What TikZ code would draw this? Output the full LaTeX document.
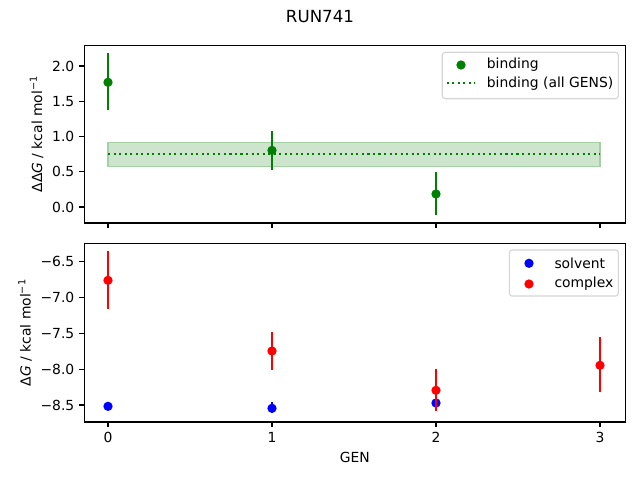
\documentclass[tikz,border=0pt]{standalone}
\usepackage{fontspec}
\setmainfont{DejaVu Sans}
\definecolor{mplgreen}{RGB}{0,128,0}
\definecolor{mplblue}{RGB}{0,0,255}
\definecolor{mplred}{RGB}{255,0,0}
\begin{document}
\begin{tikzpicture}[x=1pt,y=-1pt,
  spine/.style={line width=1.11pt,black},
  tickmark/.style={line width=1.11pt,black},
  lab/.style={font=\fontsize{13.89}{16}\selectfont,inner sep=0pt},
  ebar/.style={line width=2.08pt},
  mk/.style={circle,inner sep=0pt,minimum size=9.3pt,draw=none},
  legbox/.style={draw=black!20,fill=white,fill opacity=0.8,draw opacity=0.8,rounded corners=2.8pt,line width=1.11pt},
  dotline/.style={mplgreen,line width=2.08pt,dash pattern=on 2.08pt off 3.44pt}
]
\useasboundingbox (0,0) rectangle (640,480);
% title
\node[lab,font=\fontsize{16.67}{19}\selectfont] (title) at (320,16.7) {RUN741};

% ================= top axes =================
\fill[mplgreen!20] (108,142.3) rectangle (600,166.7);
\draw[mplgreen!36,line width=1.2pt] (108,142.3) rectangle (600,166.7);
\draw[dotline] (108,154) -- (600,154);
% binding points
\draw[ebar,mplgreen] (108,53.3) -- (108,110.3);
\node[mk,fill=mplgreen] (b0) at (108,82.3) {};
\draw[ebar,mplgreen] (272,131) -- (272,169.7);
\node[mk,fill=mplgreen] (b1) at (272,150.4) {};
\draw[ebar,mplgreen] (436,172.3) -- (436,214.5);
\node[mk,fill=mplgreen] (b2) at (436,194) {};
% spines
\draw[spine] (84.3,45.3) rectangle (625.3,223);
% y ticks
\foreach \y/\t in {66/2.0,101.3/1.5,136.5/1.0,171.8/0.5,207/0.0}{
  \draw[tickmark] (84.3,\y) -- (79.4,\y);
  \node[lab,anchor=east] at (74.5,\y) {\t};
}
% x ticks (no labels)
\foreach \x in {108,272,436,600}{
  \draw[tickmark] (\x,223) -- (\x,227.9);
}
\node[lab,rotate=90] (ylabtop) at (36.7,134.2) {ΔΔ\textit{G} / kcal mol\textsuperscript{−1}};
% legend top
\draw[legbox] (442.3,52.3) rectangle (618.3,98.7);
\node[mk,fill=mplgreen] (lgb) at (461,65) {};
\node[lab,anchor=west] (lgbt) at (486.7,65) {binding};
\draw[dotline] (446.7,83.3) -- (475,83.3);
\node[lab,anchor=west] (lgat) at (486.7,83.3) {binding (all GENS)};

% ================= bottom axes =================
% solvent
\draw[ebar,mplblue] (108,403.3) -- (108,409.3);
\node[mk,fill=mplblue] (s0) at (108,406.3) {};
\draw[ebar,mplblue] (272,402.3) -- (272,413);
\node[mk,fill=mplblue] (s1) at (272,408.3) {};
\draw[ebar,mplblue] (436,399) -- (436,407);
\node[mk,fill=mplblue] (s2) at (436,403) {};
% complex
\draw[ebar,mplred] (108,250.7) -- (108,308.7);
\node[mk,fill=mplred] (c0) at (108,280.3) {};
\draw[ebar,mplred] (272,332) -- (272,369.7);
\node[mk,fill=mplred] (c1) at (272,351) {};
\draw[ebar,mplred] (436,368.7) -- (436,410.7);
\node[mk,fill=mplred] (c2) at (436,390.3) {};
\draw[ebar,mplred] (600,337) -- (600,391.7);
\node[mk,fill=mplred] (c3) at (600,365.3) {};
% spines
\draw[spine] (84.3,243.3) rectangle (625.3,422);
% y ticks
\foreach \y/\t in {261.7/−6.5,297.5/−7.0,333.4/−7.5,369.2/−8.0,405/−8.5}{
  \draw[tickmark] (84.3,\y) -- (79.4,\y);
  \node[lab,anchor=east] at (74.5,\y) {\t};
}
% x ticks
\foreach \x/\t in {108/0,272/1,436/2,600/3}{
  \draw[tickmark] (\x,422) -- (\x,426.9);
  \node[lab,anchor=north] at (\x,432) {\t};
}
\node[lab] (xlab) at (354.8,457.7) {GEN};
\node[lab,rotate=90] (ylabbot) at (25,332.7) {Δ\textit{G} / kcal mol\textsuperscript{−1}};
% legend bottom
\draw[legbox] (509.3,250) rectangle (618.3,296);
\node[mk,fill=mplblue] (lgs) at (529,263.3) {};
\node[lab,anchor=west] (lgst) at (554.3,263.3) {solvent};
\node[mk,fill=mplred] (lgc) at (529,284) {};
\node[lab,anchor=west] (lgct) at (554.3,284) {complex};
\end{tikzpicture}
\end{document}
